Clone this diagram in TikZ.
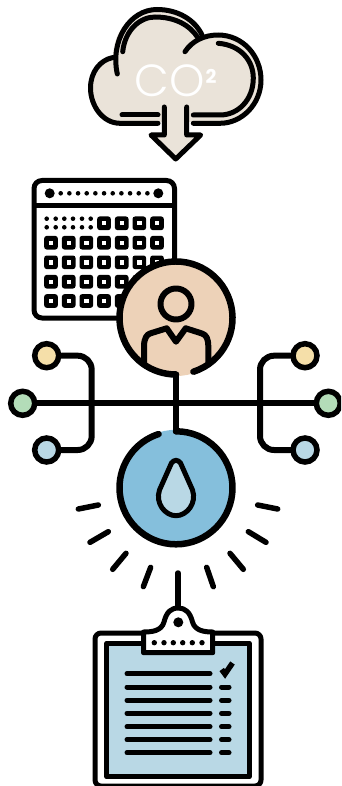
\documentclass[tikz,border=0pt]{standalone}
\usepackage{fontspec}
\newfontfamily\cofont[UprightFont=* Light]{Poppins}
\newfontfamily\twofont[UprightFont=* Bold]{Poppins}
\definecolor{ink}{HTML}{000000}
\definecolor{beige}{HTML}{EAE3D9}
\definecolor{peach}{HTML}{EDD2B8}
\definecolor{skyb}{HTML}{85BFDC}
\definecolor{pale}{HTML}{B9D8E5}
\definecolor{mint}{HTML}{B3DCB8}
\definecolor{butter}{HTML}{F5DFA9}
\tikzset{
  ln/.style={draw=ink,line width=#1,line cap=round,line join=round},
  ln/.default=5pt,
  term/.style={circle,draw=ink,line width=5.5pt,minimum size=24pt,inner sep=0pt},
}
\newcommand{\sq}[2]{\fill[ink,rounded corners=2.5pt] ({#1-6.8},{#2-6.8}) rectangle ({#1+6.8},{#2+6.8});
  \fill[white] ({#1-2.2},{#2-2.2}) rectangle ({#1+2.2},{#2+2.2});}
\begin{document}
\begin{tikzpicture}[x=1pt,y=-1pt]
\useasboundingbox (0,0) rectangle (341,786);
\clip (0,0) rectangle (341,786);
% cloud
\fill[beige] (120,122) .. controls (103,122) and (90.5,106) .. (90.5,88)
  .. controls (90.5,72) and (100,60) .. (113,57.5)
  .. controls (113,30) and (132,9.5) .. (157,9.5)
  .. controls (178,9.5) and (195,20) .. (203,36)
  .. controls (235,28) and (261,50) .. (261,80)
  .. controls (261,104) and (242,122) .. (220,122) -- cycle;
\draw[ln] (158,123.3) -- (120,123.3) .. controls (103,123.3) and (90.5,106) .. (90.5,88)
  .. controls (90.5,72) and (100,60) .. (113,57.5);
\draw[ln] (117.3,74) .. controls (110,40) and (130,9.5) .. (157,9.5)
  .. controls (178,9.5) and (195,20) .. (202,35);
\draw[ln] (185,51.7) .. controls (192,41) and (204,35) .. (218,35)
  .. controls (243,35) and (261,56) .. (261,80)
  .. controls (261,104) and (242,123.3) .. (220,123.3) -- (193.3,123.3);
\draw[ln] (122.7,51.7) .. controls (125,30) and (140,17) .. (155,17)
  .. controls (175,17) and (190,25) .. (198.3,38.3);
\draw[ln] (218.3,43.3) .. controls (240,45) and (253.3,60) .. (253.3,78)
  .. controls (253.3,100) and (238,115) .. (220,115) -- (193.3,115);
\draw[ln] (122,115) -- (158,115);
\draw[ln,fill=beige] (164.3,107) -- (164.3,135) -- (151,135) -- (175.7,159) -- (200.7,135) -- (186.7,135) -- (186.7,107);
\node[text=white,font=\cofont\fontsize{45}{45}\selectfont,inner sep=0pt] (co) at (170,81) {CO};
\node[text=white,font=\twofont\fontsize{19}{19}\selectfont,inner sep=0pt] (two) at (211,76.5) {2};
% calendar
\draw[ln,fill=white,rounded corners=8pt] (34,180.5) rectangle (174.5,318);
\draw[ln,line cap=butt] (34,205.7) -- (174.5,205.7);
\fill[ink] (49.7,193.3) circle[radius=5pt] (158.3,193.3) circle[radius=5pt];
\foreach \i in {0,...,10} \fill[ink] ({60.7+\i*8.67},193.3) circle[radius=2.3pt];
\foreach \yy in {218.7,227.3} \foreach \xx in {46.7,55.7,64.3,73,82,90.7}
  \fill[ink] (\xx,\yy) circle[radius=2.3pt];
\foreach \xx in {104,121.7,139.3,157} {\sq{\xx}{223.3}}
\foreach \yy in {242.7,262.3,281.7,301} \foreach \xx in {51,68.7,86.3,104,121.7,139.3,157} {\sq{\xx}{\yy}}
% person
\coordinate (pc) at (176,318);
\fill[peach] (pc) circle[radius=58pt];
\draw[ln=6.5pt] (pc) ++(-72:56.5pt) arc[start angle=-72,end angle=270,radius=56.5pt];
\draw[ln=6pt] (176,304) circle[radius=15.5pt];
\draw[ln=6pt] (144,363.3) -- (144,346.7) .. controls (144,338) and (147,334.5) .. (150,333.5) -- (166.7,328.3) -- (176,341.7) -- (185.7,328.3) -- (202,333.5) .. controls (206,335) and (208.3,338) .. (208.3,346.7) -- (208.3,361.7);
% water circle
\coordinate (wc) at (176,487.8);
\fill[skyb] (wc) circle[radius=58pt];
\draw[ln=6.5pt] (wc) ++(90:56.5pt) arc[start angle=90,end angle=-252,radius=56.5pt];
\draw[ln,fill=pale] (171.5,463) .. controls (174,459.5) and (178,459.5) .. (180.5,463) -- (192.5,490) .. controls (197,503) and (187,515.7) .. (176,515.7) .. controls (165,515.7) and (155,503) .. (159.5,490) -- cycle;
% terminals and wires
\coordinate (ptop) at (176,374.5);
\coordinate (wtop) at (176,431.3);
\draw[ln=6pt] (ptop) -- (wtop);
\node[term,fill=mint] (gl) at (22.7,403.3) {};
\node[term,fill=mint] (gr) at (328.3,403.3) {};
\node[term,fill=butter] (yl) at (46.7,355.7) {};
\node[term,fill=butter] (yr) at (305,355.7) {};
\node[term,fill=pale] (bl) at (46.7,450) {};
\node[term,fill=pale] (br) at (305,450) {};
\draw[ln=6pt] (gl) -- (gr);
\draw[ln=6pt,rounded corners=14pt] (yl) -- (91.7,355.7) -- (91.7,450) -- (bl);
\draw[ln=6pt,rounded corners=14pt] (yr) -- (260,355.7) -- (260,450) -- (br);
% rays
\foreach \a/\b/\c/\d in {235/537/295/525,270/637/325/605,338/718/378/670,430/770/452/712,620/712/640/770,690/670/730/718,745/605/798/637,773/525/833/537}
  \draw[ln=5.5pt] ({\a/3},{330+\b/3}) -- ({\c/3},{330+\d/3});
% clipboard
\coordinate (rtop) at (178,573);
\coordinate (ctop) at (178,610);
\draw[ln=5.5pt] (rtop) -- (ctop);
\draw[ln,fill=white,rounded corners=6pt] (95,633) rectangle (261,786);
\draw[ln,fill=pale] (106.7,643.3) rectangle (249.3,776.7);
\draw[ln,fill=white] (143.5,652.7) -- (212.7,652.7) -- (212.7,632) .. controls (205,632) and (195,631) .. (192.5,622) .. controls (190,612) and (185,608) .. (178.3,608) .. controls (171,608) and (166.5,612) .. (164,622) .. controls (161.5,631) and (152,632) .. (143.5,632) -- cycle;
\fill[ink] (178.3,622.3) circle[radius=5pt];
\foreach \xx in {154.3,164,173.3,182.7,192.3,202} \fill[ink] (\xx,642.7) circle[radius=2.7pt];
\foreach \yy in {673.7,687,700.3,713.3,726.7,739.7,752.7} \draw[ln] (127,\yy) -- (210,\yy);
\foreach \yy in {687,700.3,713.3,726.7,739.7,752.7} \draw[ln] (221.5,\yy) -- (229,\yy);
\draw[ln,line width=5.5pt,line cap=butt,line join=miter] (221.7,669.5) -- (225,674) -- (232.5,663);
\end{tikzpicture}
\end{document}
